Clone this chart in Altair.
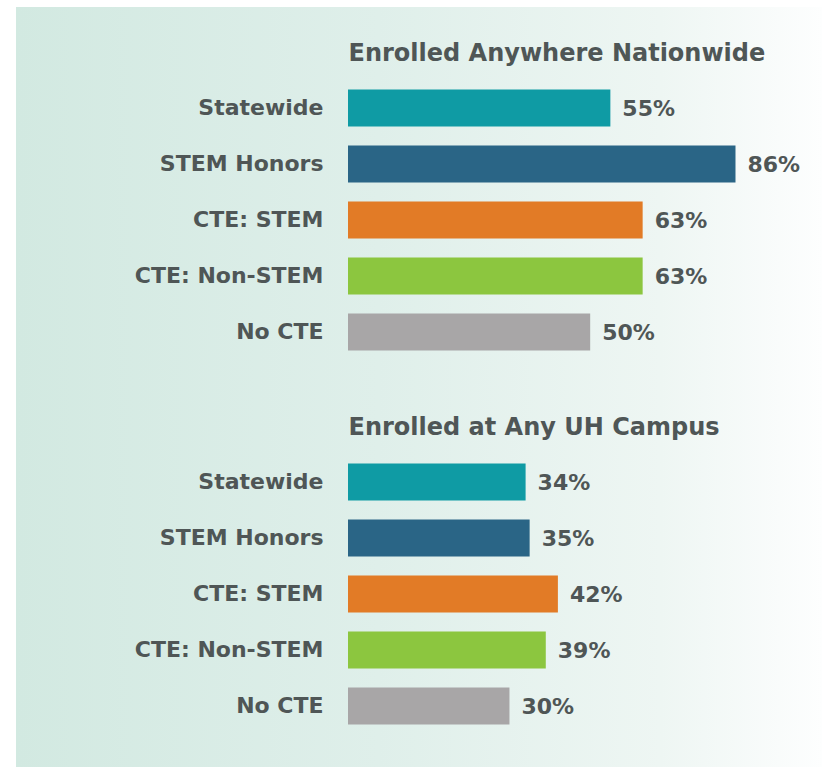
import altair as alt
import pandas as pd

# ---- data ----
categories = ["Statewide", "STEM Honors", "CTE: STEM", "CTE: Non-STEM", "No CTE"]
nationwide = [55, 86, 63, 63, 50]
uh_campus = [34, 35, 42, 39, 30]
panel_titles = ["Enrolled Anywhere Nationwide", "Enrolled at Any UH Campus"]
bar_colors = ["#0f9ba4", "#2a6586", "#e27b26", "#8cc63f", "#a8a6a7"]

TEXT = "#4f5656"
FONT = "DejaVu Sans"
W, H = 444, 280

bg_gradient = alt.LinearGradient(
    gradient="linear",
    stops=[
        alt.GradientStop(offset=0, color="#d2e9e1"),
        alt.GradientStop(offset=0.45, color="#dfefea"),
        alt.GradientStop(offset=0.8, color="#eef6f3"),
        alt.GradientStop(offset=1, color="#fdfefe"),
    ],
    x1=0, x2=1, y1=0, y2=0,
)


def panel(title, values, bg_top, bg_bottom):
    df = pd.DataFrame({"group": categories, "value": values})
    df["label"] = [f"{v}%" for v in values]

    background = alt.Chart(pd.DataFrame({"k": [0]})).mark_rect(
        color=bg_gradient
    ).encode(
        x=alt.value(-332), x2=alt.value(474),
        y=alt.value(bg_top), y2=alt.value(bg_bottom),
    )

    y_enc = alt.Y(
        "group:N", sort=categories,
        scale=alt.Scale(paddingInner=0.34, paddingOuter=0.17),
        axis=alt.Axis(
            title=None, domain=False, ticks=False, labelPadding=25,
            labelFont=FONT, labelFontSize=22, labelFontWeight="bold",
            labelColor=TEXT, grid=False, zindex=2, labelLimit=400,
        ),
    )
    x_scale = alt.Scale(domain=[-10, 100], nice=False, zero=False)

    base = alt.Chart(df)
    bars = base.mark_bar(cornerRadius=0).encode(
        y=y_enc,
        x=alt.X(
            "value:Q", scale=x_scale,
            axis=alt.Axis(
                orient="top", title=title, labels=False, ticks=False,
                domain=False, grid=False, titleX=0, titleY=-20,
                titleAlign="left", titleBaseline="alphabetic",
                titleFont=FONT, titleFontSize=24, titleFontWeight="bold",
                titleColor=TEXT, zindex=2,
            ),
        ),
        x2=alt.datum(-10),
        color=alt.Color(
            "group:N",
            scale=alt.Scale(domain=categories, range=bar_colors),
            legend=None,
        ),
    )
    labels = base.mark_text(
        align="left", baseline="middle", dx=12, dy=1,
        font=FONT, fontSize=22, fontWeight="bold", color=TEXT,
    ).encode(
        y=alt.Y("group:N", sort=categories),
        x=alt.X("value:Q", scale=x_scale),
        text="label:N",
    )
    return alt.layer(background, bars, labels).properties(width=W, height=H)


top = panel(panel_titles[0], nationwide, -73, 320)
bottom = panel(panel_titles[1], uh_campus, -54, 313)

chart = alt.vconcat(top, bottom, spacing=0).properties(
    padding={"left": 16, "top": 7, "right": 0, "bottom": 0},
    background="white",
).configure_view(stroke=None)

chart.save("out.html", embed_options={"renderer": "svg", "actions": False})
